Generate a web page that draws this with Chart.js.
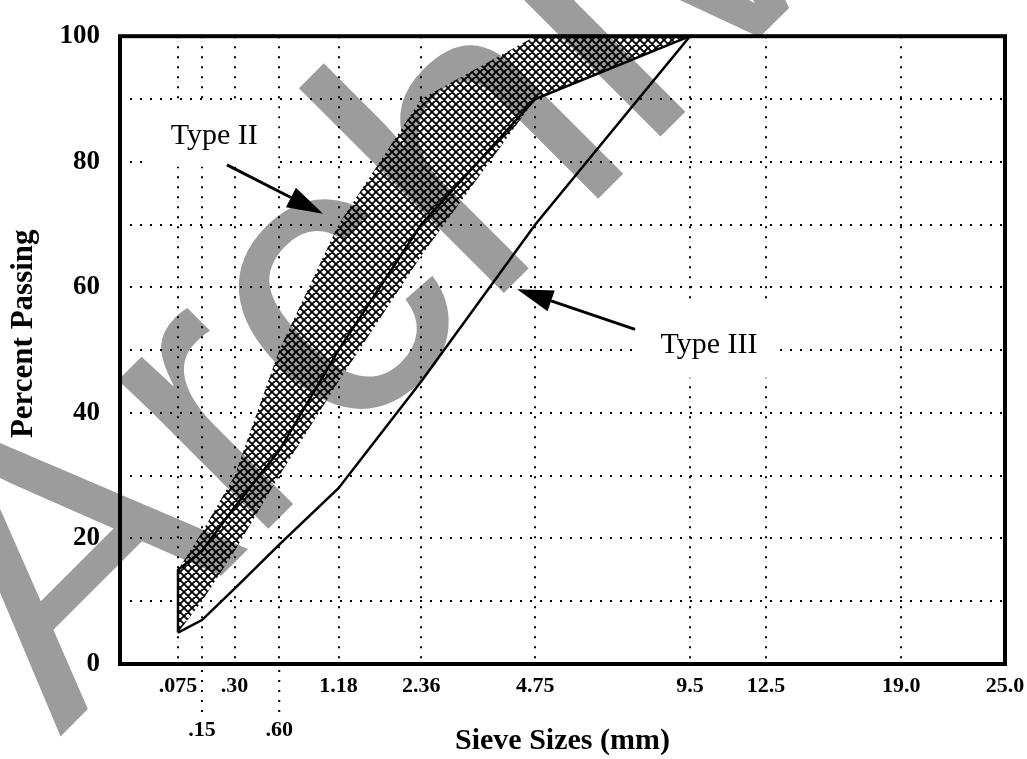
<!DOCTYPE html>
<html><head><meta charset="utf-8">
<script src="https://cdn.jsdelivr.net/npm/chart.js@4/dist/chart.umd.min.js"></script>
<style>html,body{margin:0;padding:0;background:#fff;overflow:hidden}#wrap{width:1027px;height:759px}</style>
</head><body><div id="wrap"><canvas id="c" width="1027" height="759"></canvas></div>
<script>
// ---- data ----
const SIEVES = [0.075, 0.15, 0.30, 0.60, 1.18, 2.36, 4.75, 9.5];
const TYPE2_LOWER = [5, 10, 18, 30, 45, 65, 90, 100];
const TYPE2_UPPER = [15, 21, 30, 50, 70, 90, 100, 100];
const TYPE3_LOWER = [5, 7, 12, 19, 28, 45, 70, 100];
const TYPE3_UPPER = [15, 18, 25, 34, 50, 70, 90, 100];
const TICK_SIEVES = [0.075, 0.15, 0.30, 0.60, 1.18, 2.36, 4.75, 9.5, 12.5, 19.0, 25.0];
const TICK_LABELS = ['.075', '.15', '.30', '.60', '1.18', '2.36', '4.75', '9.5', '12.5', '19.0', '25.0'];
const TICK_ROW = [0, 1, 0, 1, 0, 0, 0, 0, 0, 0, 0];
const Y_LABEL_STEP = 20;
const POWER = 0.45;      // 0.45-power gradation chart
const X_MIN = 0.035;     // scale start in transformed units
const Y_TITLE = 'Percent Passing';
const Y_TITLE_AT = 52.6; // percent value where the y title is centred

// annotation placement in scale units (x = sieve^0.45, y = percent)
const NOTES = [
  {text: 'Type II', x: 0.485, y: 82.8, box: [0.164, 0.79, 89.5, 79.2], arrow: [0.545, 79.5, 1.0035, 71.7]},
  {text: 'Type III', x: 2.845, y: 49.5, box: [2.502, 3.17, 58.1, 45.6], arrow: [2.492, 53.3, 1.929, 59.7]}
];
const WATERMARK = {text: 'Archived', x: 60, y: 737, angle: -45, size: 400};

const SERIF = '"Liberation Serif", "Times New Roman", serif';
const tx = d => Math.pow(d, POWER);
const pts = arr => SIEVES.map((d, i) => ({x: tx(d), y: arr[i]}));

function hatchPattern() {
  const s = 8, cv = document.createElement('canvas');
  cv.width = s; cv.height = s;
  const g = cv.getContext('2d');
  g.fillStyle = '#fff'; g.fillRect(0, 0, s, s);
  g.strokeStyle = '#000'; g.lineWidth = 1.9;
  g.beginPath();
  for (const k of [-s, 0, s]) {
    g.moveTo(k, 0); g.lineTo(k + s, s);
    g.moveTo(k + s, 0); g.lineTo(k, s);
  }
  g.stroke();
  return g.createPattern(cv, 'repeat');
}

function arrow(ctx, x1, y1, x2, y2) {
  const L = 36, W = 11;
  const a = Math.atan2(y2 - y1, x2 - x1);
  const bx = x2 - L * Math.cos(a), by = y2 - L * Math.sin(a);
  ctx.beginPath(); ctx.moveTo(x1, y1); ctx.lineTo(bx, by);
  ctx.lineWidth = 3; ctx.strokeStyle = '#000'; ctx.stroke();
  ctx.beginPath(); ctx.moveTo(x2, y2);
  ctx.lineTo(bx + W * Math.sin(a), by - W * Math.cos(a));
  ctx.lineTo(bx - W * Math.sin(a), by + W * Math.cos(a));
  ctx.closePath(); ctx.fillStyle = '#000'; ctx.fill();
}

const decor = {
  id: 'decor',
  beforeDraw(chart) {
    const c = chart.ctx; c.save(); c.fillStyle = '#fff'; c.fillRect(0, 0, chart.width, chart.height); c.restore();
  },
  beforeDatasetsDraw(chart) {
    const c = chart.ctx, X = chart.scales.x, Y = chart.scales.y;
    c.save(); c.fillStyle = '#fff';
    for (const n of NOTES) {
      const x1 = X.getPixelForValue(n.box[0]), x2 = X.getPixelForValue(n.box[1]);
      const y1 = Y.getPixelForValue(n.box[2]), y2 = Y.getPixelForValue(n.box[3]);
      c.fillRect(x1, y1, x2 - x1, y2 - y1);
    }
    c.restore();
  },
  afterDatasetsDraw(chart) {
    const c = chart.ctx, X = chart.scales.x, Y = chart.scales.y, a = chart.chartArea;
    c.save();
    // frame
    c.lineWidth = 4; c.strokeStyle = '#000';
    c.strokeRect(a.left, a.top, a.right - a.left, a.bottom - a.top);
    // dotted leaders to second-row tick labels
    c.lineWidth = 2; c.strokeStyle = '#000'; c.setLineDash([2, 8]);
    TICK_SIEVES.forEach((d, i) => {
      if (!TICK_ROW[i]) return;
      const x = X.getPixelForValue(tx(d));
      c.beginPath(); c.moveTo(x, a.bottom + 6); c.lineTo(x, a.bottom + 50); c.stroke();
    });
    c.setLineDash([]);
    // y axis title
    c.save();
    c.translate(Y.left + 24, Y.getPixelForValue(Y_TITLE_AT));
    c.rotate(-Math.PI / 2);
    c.font = 'bold 31px ' + SERIF; c.fillStyle = '#000'; c.textAlign = 'center'; c.textBaseline = 'middle';
    c.fillText(Y_TITLE, 0, 0);
    c.restore();
    // labels + arrows
    c.font = '30px ' + SERIF; c.fillStyle = '#000'; c.textAlign = 'center'; c.textBaseline = 'alphabetic';
    for (const n of NOTES) {
      c.fillText(n.text, X.getPixelForValue(n.x), Y.getPixelForValue(n.y));
      arrow(c, X.getPixelForValue(n.arrow[0]), Y.getPixelForValue(n.arrow[1]),
               X.getPixelForValue(n.arrow[2]), Y.getPixelForValue(n.arrow[3]));
    }
    c.restore();
  },
  afterDraw(chart) {
    const c = chart.ctx;
    c.save();
    c.translate(WATERMARK.x, WATERMARK.y);
    c.rotate(WATERMARK.angle * Math.PI / 180);
    c.font = WATERMARK.size + 'px "Liberation Sans", Arial, sans-serif';
    c.fillStyle = 'rgba(0,0,0,0.39)';
    c.textAlign = 'left'; c.textBaseline = 'alphabetic';
    c.fillText(WATERMARK.text, 0, 0);
    c.restore();
  }
};

const hatch = hatchPattern();
const t3lo = pts(TYPE3_LOWER), t3up = pts(TYPE3_UPPER);

new Chart(document.getElementById('c'), {
  type: 'line',
  data: {
    datasets: [
      {label: 'Type III', data: [...t3lo, ...t3up.slice().reverse(), t3lo[0]],
       borderColor: '#000', borderWidth: 2.5, fill: false, pointRadius: 0, tension: 0},
      {label: 'Type II upper', data: pts(TYPE2_UPPER), borderColor: 'rgba(0,0,0,0)', borderWidth: 0,
       backgroundColor: hatch, fill: '+1', pointRadius: 0, tension: 0},
      {label: 'Type II lower', data: pts(TYPE2_LOWER), borderColor: 'rgba(0,0,0,0)', borderWidth: 0,
       fill: false, pointRadius: 0, tension: 0}
    ]
  },
  options: {
    responsive: false, animation: false, devicePixelRatio: 1,
    layout: {padding: {top: 24, right: 22, left: 0, bottom: 0}},
    plugins: {legend: {display: false}, tooltip: {enabled: false}},
    scales: {
      x: {
        type: 'linear', min: X_MIN, max: tx(25),
        afterFit(s) { s.height = 95; },
        afterBuildTicks(s) { s.ticks = TICK_SIEVES.map(d => ({value: tx(d)})); },
        ticks: {autoSkip: false, maxRotation: 0, minRotation: 0, padding: 0, color: '#000',
          font: {family: SERIF, size: 22, weight: 'bold', lineHeight: '44px'},
          callback: (v, i) => TICK_ROW[i] ? ['', TICK_LABELS[i]] : TICK_LABELS[i]},
        grid: {color: '#000', lineWidth: 2, drawTicks: false},
        border: {display: false, dash: [2, 8]},
        title: {display: true, text: 'Sieve Sizes (mm)', color: '#000',
          font: {family: SERIF, size: 30, weight: 'bold'}, padding: {top: 0, bottom: 0}}
      },
      y: {
        type: 'linear', min: 0, max: 100,
        afterFit(s) { s.width = 120; },
        ticks: {stepSize: 10, autoSkip: false, padding: 20, color: '#000',
          font: {family: SERIF, size: 27, weight: 'bold'},
          callback: v => v % Y_LABEL_STEP === 0 ? String(v) : ''},
        grid: {color: '#000', lineWidth: 2, drawTicks: false},
        border: {display: false, dash: [2, 8]},
        title: {display: false, text: Y_TITLE}
      }
    }
  },
  plugins: [decor]
});
</script></body></html>
